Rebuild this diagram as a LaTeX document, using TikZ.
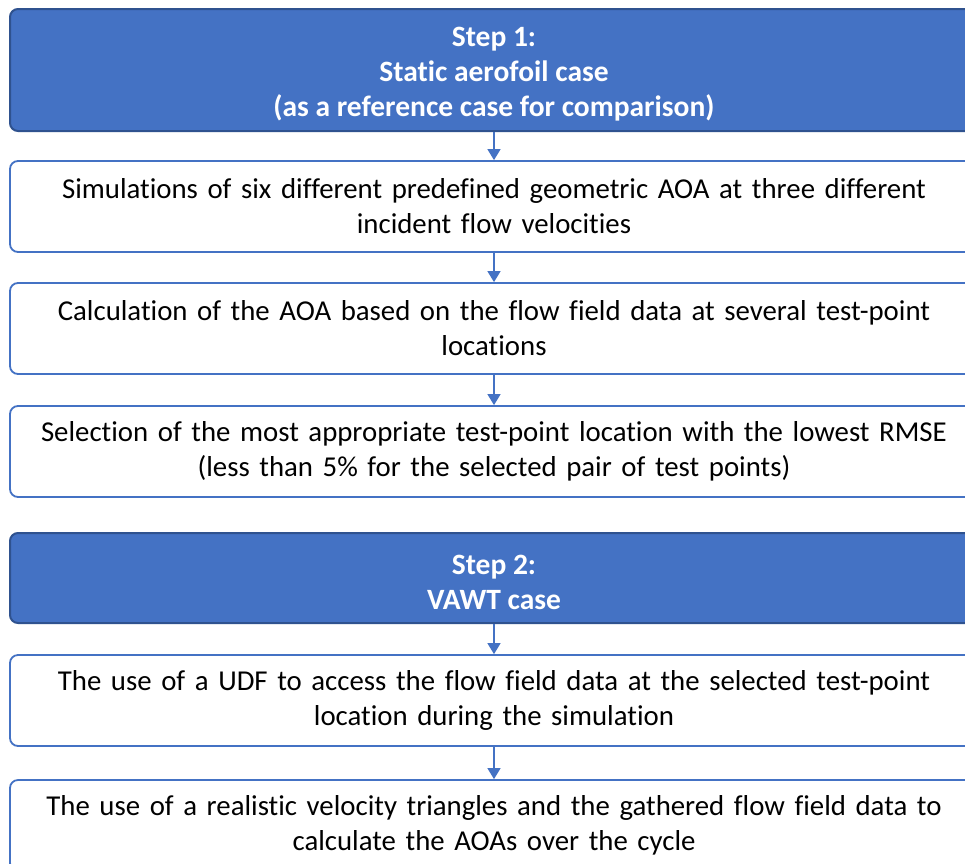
\documentclass[tikz,border=0pt]{standalone}
\usepackage{fontspec}
\setmainfont[Ligatures=NoCommon]{Carlito}
\usetikzlibrary{arrows.meta}
\definecolor{accent}{HTML}{4472C4}
\definecolor{accentdark}{HTML}{2F528F}
\newcommand{\headstrut}{\rule{0pt}{28pt}}
\begin{document}
\begin{tikzpicture}[x=1pt,y=-1pt,
  base/.style={rectangle, rounded corners=8pt, minimum width=968pt, align=center,
    font=\fontsize{28.8}{35}\selectfont, inner sep=0pt},
  headbox/.style={base, fill=accent, draw=accentdark, line width=2pt, text=white,
    font=\fontsize{29.5}{35}\selectfont\bfseries},
  textbox/.style={base, fill=white, draw=accent, line width=1.8pt, text=black, text width=950pt},
  link/.style={draw=accent, line width=1.4pt, -{Triangle[width=13pt,length=11pt]}}
]
\clip (0,0) rectangle (965,863);
\fill[white] (0,0) rectangle (965,863);

\node[headbox, minimum height=122pt] (h1) at (494,70)
  {\headstrut Step 1:\\Static aerofoil case\\(as a reference case for comparison)};
\node[textbox, minimum height=91pt] (a) at (494,206.5)
  {Simulations of six different predefined geometric AOA at three different\\incident flow velocities};
\node[textbox, minimum height=91pt] (b) at (494,328.5)
  {Calculation of the AOA\ based on the flow field data at several test-point\\locations};
\node[textbox, minimum height=91pt] (c) at (494,451.5)
  {Selection of the most appropriate test-point location with the lowest RMSE\\(less than 5\% for the selected pair of test points)};

\node[headbox, minimum height=90pt] (h2) at (494,578)
  {\headstrut Step 2:\\VAWT case};
\node[textbox, minimum height=91pt] (d) at (494,700.5)
  {The use of a UDF to access the flow field data at the selected test-point\\location during the simulation};
\node[textbox, minimum height=91pt] (e) at (494,825.5)
  {The use of a realistic velocity triangles and the gathered flow field data to\\calculate the AOAs over the cycle};

\draw[link] (h1.south) -- (a.north);
\draw[link] (a.south) -- (b.north);
\draw[link] (b.south) -- (c.north);
\draw[link] (h2.south) -- (d.north);
\draw[link] (d.south) -- (e.north);
\end{tikzpicture}
\end{document}
